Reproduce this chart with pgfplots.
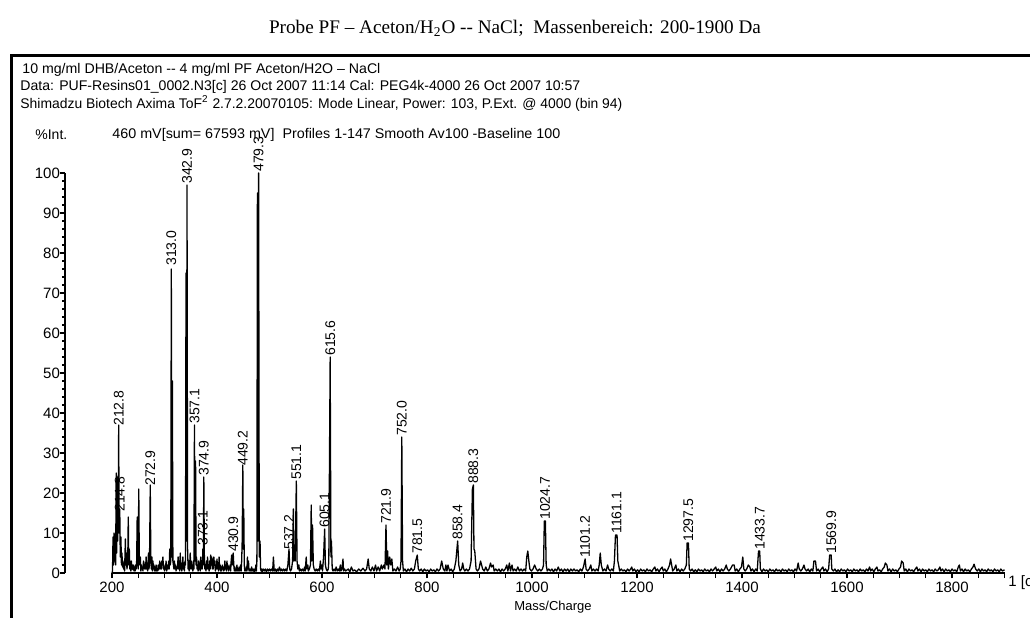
\documentclass[border=0pt]{standalone}
\usepackage{fontspec}
\setmainfont{Liberation Sans}
\newfontfamily\timesfont{Liberation Serif}
\usepackage{graphicx}
\usepackage{pgfplots}
\pgfplotsset{compat=1.18}

\begin{document}
\begin{tikzpicture}[x=0.5pt,y=0.5pt]
\useasboundingbox (0,0) rectangle (1030,617);
% frame of the instrument printout
\draw[line width=1.5pt] (11,-5) -- (11,561) -- (1040,561);

\node[font=\timesfont\fontsize{9.6}{12}\selectfont] at (515,589)
  {Probe PF – Aceton/H\textsubscript{2}O -{}- NaCl;\ \ Massenbereich: 200-1900 Da};

\begin{scope}[every node/.style={anchor=west,inner sep=0pt,font=\fontsize{7}{8}\selectfont}]
\node at (22,547) {\resizebox{179pt}{\height}{10 mg/ml DHB/Aceton -{}- 4 mg/ml PF Aceton/H2O – NaCl}};
\node at (20,530) {\resizebox{280pt}{\height}{Data: PUF-Resins01\_0002.N3[c] 26 Oct 2007 11:14 Cal: PEG4k-4000 26 Oct 2007 10:57}};
\node at (20,514) {\resizebox{301pt}{\height}{Shimadzu Biotech Axima ToF\textsuperscript{2} 2.7.2.20070105: Mode Linear, Power: 103, P.Ext. @ 4000 (bin 94)}};
\node at (35,482) {\%Int.};
\node at (112,482) {\resizebox{224pt}{\height}{460 mV[sum= 67593 mV]\ \ Profiles 1-147 Smooth Av100 -Baseline 100}};
\end{scope}

\begin{axis}[
  at={(32.5pt,22pt)}, anchor=south west,
  scale only axis, width=469.75pt, height=200pt,
  xmin=110.5, xmax=1900, ymin=0, ymax=100,
  clip=false,
  axis x line*=bottom, axis y line*=left,
  x axis line style={draw=none},
  y axis line style={line width=0.8pt},
  tick align=outside,
  tick style={black, line width=0.6pt},
  major tick length=2.5pt, minor tick length=1.5pt,
  xtick={200,400,...,1800},
  extra x ticks={250,300,...,1900},
  extra x tick labels={},
  ytick={0,10,...,100},
  minor y tick num=4,
  ticklabel style={font=\fontsize{7.5}{9}\selectfont},
  yticklabel style={xshift=3.5pt},
  xticklabel style={yshift=1.5pt},
  /pgf/number format/assume math mode=true,
  /pgf/number format/1000 sep={},
]
\draw[line width=1pt] (axis cs:200,0) -- (axis cs:1900,0);

\addplot[black, line width=0.65pt, line join=round, mark=none] coordinates {
(200,0)(201,0.5)(202,9)(203,2)(204,10)(205,3)(206,6)(207,2)(208,25)(209,5)(210,24)(211,8)(212,20)(212.8,37)(213.5,10)(214.8,16)(215.8,4)(217,9)(218,2)(219,5)(220,1.5)
(221,3)(222,1)(223,2)(224,0.5)(225.5,8.5)(226.5,2)(227.5,5)(228.5,1)(230,3)(231,14)(232,2)(233,6)(234,1)(235,2.5)(236,0.5)(237,3)(238,1)(239,2)(240,0.8)
(241,2)(242,0.5)(243,1.5)(244,0.5)(245,2)(246,1)(247,3)(248,14)(249,2)(250,1)(251,21)(252,4)(253,2)(254,4)(255,0.5)(256,2)(257,1)(258,1.5)(259,0.5)(260,3)
(261,2.5)(262,1)(263,2)(264,1)(265,4)(266,1)(267,2)(268,0.5)(269.5,5)(270.5,1)(271.5,3)(272.9,22)(274,3)(275,1)(276,4)(277,0.5)(278,3)(279,1)(280,2)
(281,0.5)(282,1.5)(283,0.5)(284,2)(285,0.5)(286,1)(287,0.5)(288,2)(289,0.8)(290,1.5)(291,3)(292,1)(293,2.5)(294,1)(295,3)(296,2)(297,4)(298,1)(299,2)(300,0.5)
(301,1.5)(302,1)(303,3)(304,0.5)(305,1)(306,2)(307,1)(308,3)(309,1)(310,6)(311,2)(312,3)(313,76)(314,4)(315,48)(316,3)(317,2)(318,1)(319,3)(320,1)
(321,2)(322,0.5)(323,1.5)(324,1)(325,2)(326,4)(327,1)(328,3)(329,0.5)(330,5)(331,1)(332,2.5)(333,0.5)(334,2)(335,4)(336,1)(337,2)(338,0.5)(339,3)(340,2)
(341,75)(342,8)(342.9,97)(344,6)(345,1)(346,3)(347,0.5)(348,2)(349,5)(350,1)(351,3)(352,1)(353,2)(354,0.5)(355,3)(356,1)(357.1,37)(358.2,3)(359.2,28)(360.2,2)
(361,4)(362,1)(363,2)(364,0.5)(365,3)(366,1)(367,2.5)(368,0.5)(369,4)(370,1)(371,3)(372,1)(373.1,6)(374,2)(374.9,24)(376,3)(377,1)(378,2)(379,0.5)(380,3)
(381,1)(382,4)(383,1)(384,2)(385,0.5)(386,3)(387,1)(388,4.5)(389,2)(390,4)(391,1)(392,3.5)(393,1)(394,4)(395,2)(396,3)(397,0.5)(398,2)(399,1)(400,3.5)
(401,1)(402,2)(403,0.5)(404,4)(405,1)(406,2)(407,0.5)(408,1.5)(409,0.5)(410,2)(411,1)(412,1.5)(413,0.5)(414,1)(415,3)(416,1)(417,2)(418,0.5)(419,3)(420,1)
(421,2)(422,0.5)(423,1.5)(424,1)(425,2)(426,0.5)(427,3)(428,4.5)(429,2)(430.9,5)(432,2)(433,0.5)(434,1.5)(435,0.5)(436,1)(437,0.5)(438,2)(439,0.5)(440,1)
(441,0.5)(442,1.5)(443,0.5)(444,1)(445,2)(446,0.5)(447,3)(448,8)(449.2,27)(450,6)(451,16)(452,2)(453,0.5)(454,1)(455,0.5)(456,1.5)(457,0.5)(458,4)(459,1)(460,3)
(461,0.5)(462,1)(463,0.5)(464,1)(465,0.5)(466,1.5)(467,0.5)(468,1)(469,0.5)(470,1)(471,0.3)(472,1)(473,0.5)(474,2)(475,0.5)(476,3)(477,95)(478,8)(479.3,100)(480.5,4)
(482,8)(483,1)(484,0.5)(485,1)(486,0.3)(488,1)(490,0.5)(492,1)(494,0.3)(496,1)(498,0.5)(500,1)(502,0.5)(504,1)(506,0.5)(507.5,4)(509,0.5)(511,1)(513,0.3)(515,1)
(517,0.5)(519,1.5)(521,0.5)(523,1)(525,0.5)(527,1)(529,0.5)(531,1)(533,0.5)(535,2)(537.2,6)(538.5,1)(540,0.5)(542,1)(544,3)(545.5,16)(546.5,3)(548,7)(549,3)(551.1,23)
(552.5,3)(554,1)(556,2)(557,0.5)(559,1)(561,0.5)(563,1)(565,0.5)(567,1.5)(568,0.5)(570,4)(571,1)(573,2)(574,0.5)(576,1)(578,2)(579.5,17)(580.5,3)(582,12)(583.5,2)
(585,1)(587,0.5)(589,1)(591,0.5)(593,1)(595,0.5)(597,3)(598,1)(600,2)(601,0.5)(603,4)(605.1,11)(606.5,2)(608,1)(610,0.5)(612,1)(613,3)(615.6,54)(617,4)(618,8)
(619.5,1)(621,0.5)(623,1)(625,0.5)(627,1.5)(629,0.5)(631,1)(633,0.5)(635,2)(636,0.5)(638,1)(640,3.5)(641,0.5)(643,1)(645,0.5)(650,1)(653,0.3)(656,1.5)(659,0.5)(662,0.8)
(666,0.3)(670,1)(674,0.5)(678,1.2)(682,0.5)(685,1)(688,3.5)(690,1)(693,0.5)(696,1.5)(699,0.5)(702,2)(704,0.5)(707,1.5)(710,0.5)(713,2)(715,1)(718,2)(720,1)(721.9,12)
(723.5,2)(725,5.5)(726.5,1)(729,4)(731,2)(733,3.5)(735,0.5)(738,1)(741,0.5)(744,1.5)(747,0.5)(749,1)(750.5,3)(752,34)(753.5,3)(755,0.5)(758,1)(761,0.3)(764,1)(767,0.5)
(770,1.2)(773,0.5)(776,1)(778.5,3)(781.5,4.5)(783.5,1)(786,0.5)(789,1)(792,0.3)(795,1)(798,0.5)(801,0.8)(804,0.3)(807,1)(810,0.5)(813,0.8)(816,0.3)(819,1)(822,0.5)(825,1)
(828,3)(831,1)(834,0.5)(836,2)(838,0.5)(840,2)(843,0.5)(846,1)(849,0.3)(852,1)(855,3)(858.4,8)(860.5,2)(863,0.5)(866,1)(868,2.5)(870,1)(872,0.5)(875,1)(878,0.5)
(881,1)(884,3)(886.5,21)(888.3,22)(889.5,6)(891,5.5)(893.5,1)(896,0.5)(899,1)(902,3)(904,2)(906,1)(909,0.5)(912,1.5)(915,0.5)(918,1)(921,2.5)(923,1.5)(926,2)(928,0.5)
(931,1)(934,0.5)(937,1)(940,0.3)(943,1)(946,0.5)(949,1)(952,2)(954,0.5)(957,2.5)(959,0.5)(962,2)(964,0.5)(967,1)(970,0.5)(973,1.5)(976,0.5)(979,1)(982,0.5)(985,1)
(988,0.5)(990,4)(992,5.5)(994,3)(996,1)(999,0.5)(1002,1)(1005,2)(1008,1)(1011,0.5)(1014,1)(1017,0.5)(1020,1)(1022,2)(1023.5,13)(1025.5,13)(1027,2)(1029,0.5)(1032,1)(1035,0.5)
(1038,1)(1041,0.3)(1044,1)(1047,0.5)(1050,1.5)(1053,0.5)(1056,1)(1059,0.3)(1062,1)(1065,0.5)(1068,1)(1071,0.3)(1074,1)(1077,0.5)(1080,1)(1083,0.5)(1086,0.8)(1089,0.3)(1092,1)(1095,0.5)
(1098,1.5)(1101.2,3.5)(1103,1)(1106,0.5)(1109,1)(1112,2)(1114,0.5)(1117,1)(1120,0.5)(1123,1)(1126,0.5)(1128,2)(1130,5)(1132,2)(1135,0.5)(1138,1)(1141,0.5)(1144,2)(1146,1)(1149,0.5)
(1152,1)(1155,0.5)(1157,3)(1159,9.5)(1162,9.5)(1163.5,3)(1165,2)(1167,0.5)(1170,1)(1173,0.5)(1176,0.8)(1179,0.3)(1182,1)(1185,0.5)(1188,1)(1190,1.5)(1192,0.5)(1195,1)(1198,0.3)(1201,0.8)
(1204,0.3)(1207,1)(1210,0.5)(1213,0.8)(1216,0.3)(1219,1)(1222,0.5)(1225,0.8)(1228,0.3)(1231,1)(1234,1.5)(1236,0.5)(1239,1)(1242,0.3)(1245,1)(1248,1.5)(1250,0.5)(1253,1)(1256,0.3)(1259,1)
(1262,2)(1264,3.5)(1266,2)(1268,0.5)(1271,1)(1274,2)(1276,0.5)(1279,1)(1282,0.3)(1285,1)(1288,0.5)(1291,1)(1294,2)(1295.5,7.5)(1298,7.5)(1299.5,1)(1302,0.5)(1305,1)(1308,0.3)(1311,0.8)
(1314,0.3)(1317,1)(1320,0.5)(1323,0.8)(1326,0.3)(1329,1)(1332,0.5)(1335,0.8)(1338,0.3)(1341,1)(1344,0.5)(1347,1)(1350,1.5)(1352,0.5)(1355,1)(1358,0.3)(1361,1)(1364,0.5)(1367,1)(1370,2)
(1372,1)(1375,0.5)(1378,1)(1382,2)(1385,2)(1387,0.5)(1390,1)(1393,0.3)(1396,1)(1399,1.5)(1401.5,4)(1403.5,1)(1406,0.5)(1409,1)(1412,2)(1415,1.5)(1417,0.5)(1420,1)(1423,0.3)(1426,1)
(1429,0.5)(1431.5,5.5)(1433.7,5.5)(1435,1)(1438,0.3)(1441,1)(1444,0.5)(1447,0.8)(1450,0.3)(1453,1)(1456,0.5)(1459,0.8)(1462,0.3)(1465,1)(1468,0.5)(1471,0.8)(1474,0.3)(1477,1)(1480,0.5)(1483,0.8)
(1486,0.3)(1489,1)(1492,0.5)(1495,0.8)(1498,0.3)(1501,1)(1504,0.5)(1507,2.5)(1509,1)(1512,0.5)(1515,1)(1518,2)(1520,1)(1523,0.5)(1526,1)(1529,0.3)(1532,1)(1535,0.5)(1537,3)(1540,3)
(1542,0.5)(1545,1)(1548,0.3)(1551,1)(1554,1.5)(1556,0.5)(1559,1)(1562,0.3)(1565,1)(1567,4.5)(1569.9,4.5)(1571,1)(1574,0.5)(1577,1)(1580,0.3)(1583,0.8)(1586,0.3)(1589,1)(1592,0.5)(1595,0.8)
(1598,0.3)(1601,1)(1604,0.5)(1607,0.8)(1610,0.3)(1613,1)(1616,0.5)(1619,0.8)(1622,0.3)(1625,1)(1628,0.5)(1631,0.8)(1634,0.3)(1637,1)(1640,0.5)(1643,1.5)(1645,0.5)(1648,1)(1651,0.3)(1654,1)
(1657,1.5)(1659,0.5)(1662,0.8)(1665,0.3)(1668,1)(1671,1.5)(1673,2.5)(1676,2)(1678,0.5)(1681,1)(1684,0.3)(1687,1)(1690,0.5)(1693,0.8)(1696,0.3)(1699,1)(1702,1.5)(1704,3)(1707,2.5)(1709,0.5)
(1712,1)(1715,0.3)(1718,1)(1721,0.5)(1724,0.8)(1727,0.3)(1730,1)(1733,1.5)(1735,0.5)(1738,1)(1741,0.3)(1744,1)(1747,0.5)(1750,0.8)(1753,0.3)(1756,1)(1759,0.5)(1762,0.8)(1765,0.3)(1768,1)
(1771,0.5)(1774,0.8)(1777,1.5)(1779,0.5)(1782,1)(1785,0.3)(1788,1)(1791,0.5)(1794,0.8)(1797,0.3)(1800,1)(1803,0.5)(1806,0.8)(1809,0.3)(1812,1.5)(1814,2)(1816,0.5)(1819,1)(1822,0.3)(1825,1)
(1828,0.5)(1831,0.8)(1834,0.3)(1837,1)(1840,1.5)(1842,2.2)(1845,1)(1848,0.5)(1851,1)(1854,0.3)(1857,1)(1860,0.5)(1863,0.8)(1866,0.3)(1869,1)(1872,0.5)(1875,0.8)(1878,0.3)(1881,1)(1884,0.5)
(1887,0.8)(1890,0.3)(1893,1)(1896,0.5)(1900,0.8)
};

% peak annotations
\begin{scope}[every node/.style={rotate=90,anchor=west,inner sep=0.5pt,font=\fontsize{7}{8}\selectfont}]
\node at (axis cs:212.8,36.5) {212.8};
\node at (axis cs:214.8,15) {214.8};
\node at (axis cs:272.9,21.5) {272.9};
\node at (axis cs:313.0,76.5) {313.0};
\node at (axis cs:342.9,97) {342.9};
\node at (axis cs:357.1,37) {357.1};
\node at (axis cs:373.1,6.5) {373.1};
\node at (axis cs:374.9,24) {374.9};
\node at (axis cs:430.9,5) {430.9};
\node at (axis cs:449.2,26.5) {449.2};
\node at (axis cs:479.3,100) {479.3};
\node at (axis cs:537.2,5.5) {537.2};
\node at (axis cs:551.1,23) {551.1};
\node at (axis cs:605.1,11) {605.1};
\node at (axis cs:615.6,54) {615.6};
\node at (axis cs:721.9,12) {721.9};
\node at (axis cs:752.0,34) {752.0};
\node at (axis cs:781.5,4.5) {781.5};
\node at (axis cs:858.4,8) {858.4};
\node at (axis cs:888.3,22) {888.3};
\node at (axis cs:1024.7,13) {1024.7};
\node at (axis cs:1101.2,3.5) {1101.2};
\node at (axis cs:1161.1,9.5) {1161.1};
\node at (axis cs:1297.5,7.5) {1297.5};
\node at (axis cs:1433.7,5.5) {1433.7};
\node at (axis cs:1569.9,4.5) {1569.9};
\end{scope}
\end{axis}

\node[anchor=west,inner sep=0pt,font=\fontsize{7.5}{9}\selectfont] at (1008,34) {1 [c]};
\node[font=\fontsize{6.5}{8}\selectfont] at (553,10) {Mass/Charge};
\end{tikzpicture}
\end{document}
